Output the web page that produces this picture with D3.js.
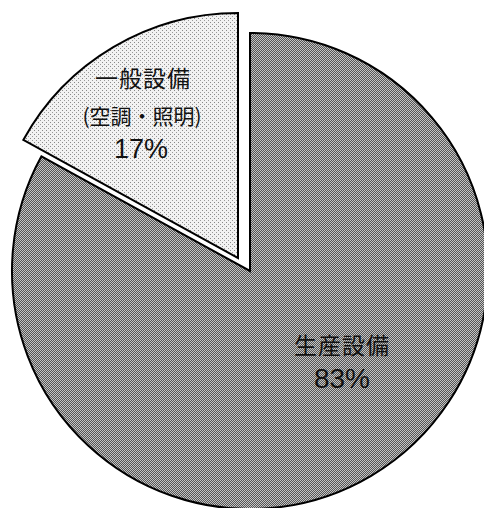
<!DOCTYPE html>
<html>
<head>
<meta charset="utf-8">
<script src="https://cdn.jsdelivr.net/npm/d3@7"></script>
<style>
  html, body { margin: 0; padding: 0; background: #fff; }
</style>
</head>
<body>
<script>
// Datos
const categories = ["生産設備", "一般設備"];
const subLabels = ["", "(空調・照明)"];
const values = [83, 17];

// Variables
const w = 484;
const h = 508;
const cx = 250;
const cy = 271;
const radius = 238;

const svg = d3.select("body")
  .append("svg")
  .attr("width", w)
  .attr("height", h);

// Tramas (simulan el punteado del original)
const defs = svg.append("defs");
const dark = defs.append("pattern")
  .attr("id", "dark")
  .attr("width", 2).attr("height", 2)
  .attr("patternUnits", "userSpaceOnUse");
dark.append("rect").attr("width", 2).attr("height", 2).attr("fill", "#c4c4c4");
dark.append("rect").attr("width", 1).attr("height", 1).attr("fill", "#555");
dark.append("rect").attr("x", 1).attr("y", 1).attr("width", 1).attr("height", 1).attr("fill", "#555");

const light = defs.append("pattern")
  .attr("id", "light")
  .attr("width", 4).attr("height", 4)
  .attr("patternUnits", "userSpaceOnUse");
light.append("rect").attr("width", 4).attr("height", 4).attr("fill", "#f2f2f2");
light.append("rect").attr("width", 1).attr("height", 1).attr("fill", "#888");
light.append("rect").attr("x", 2).attr("y", 2).attr("width", 1).attr("height", 1).attr("fill", "#999");

const fills = ["url(#dark)", "url(#light)"];
// desplazamiento de la porción separada
const offsets = [[0, 0], [-12, -13]];
const radii = [radius, 245];

const pie = d3.pie().sort(null).startAngle(0).endAngle(2 * Math.PI);
const arcs = pie(values);

const g = svg.append("g").attr("transform", `translate(${cx},${cy})`);

g.selectAll("path")
  .data(arcs)
  .enter()
  .append("path")
  .attr("transform", (d, i) => `translate(${offsets[i][0]},${offsets[i][1]})`)
  .attr("d", (d, i) => d3.arc().innerRadius(0).outerRadius(radii[i])(d))
  .attr("fill", (d, i) => fills[i])
  .attr("stroke", "#000")
  .attr("stroke-width", 2)
  .attr("stroke-linejoin", "miter");

// Etiquetas
const font = "'Noto Sans CJK JP', 'Noto Sans CJK SC', sans-serif";
const numFont = "'Liberation Sans', Arial, sans-serif";

// porción grande
g.append("text")
  .attr("x", 92).attr("y", 73)
  .attr("text-anchor", "middle")
  .attr("dominant-baseline", "central")
  .attr("font-family", font)
  .attr("font-size", "23px")
  .attr("letter-spacing", "1px")
  .attr("fill", "#111")
  .text(categories[0]);
g.append("text")
  .attr("x", 92).attr("y", 117)
  .attr("text-anchor", "middle")
  .attr("font-family", numFont)
  .attr("font-size", "28px")
  .attr("fill", "#111")
  .text(values[0] + "%");

// porción pequeña
g.append("text")
  .attr("x", -107).attr("y", -194)
  .attr("text-anchor", "middle")
  .attr("dominant-baseline", "central")
  .attr("font-family", font)
  .attr("font-size", "23px")
  .attr("letter-spacing", "1px")
  .attr("fill", "#111")
  .text(categories[1]);
g.append("text")
  .attr("x", -108).attr("y", -156)
  .attr("text-anchor", "middle")
  .attr("dominant-baseline", "central")
  .attr("font-family", font)
  .attr("font-size", "21px")
  .attr("fill", "#111")
  .text(subLabels[1]);
g.append("text")
  .attr("x", -109).attr("y", -113)
  .attr("text-anchor", "middle")
  .attr("font-family", numFont)
  .attr("font-size", "27px")
  .attr("fill", "#111")
  .text(values[1] + "%");
</script>
</body>
</html>
